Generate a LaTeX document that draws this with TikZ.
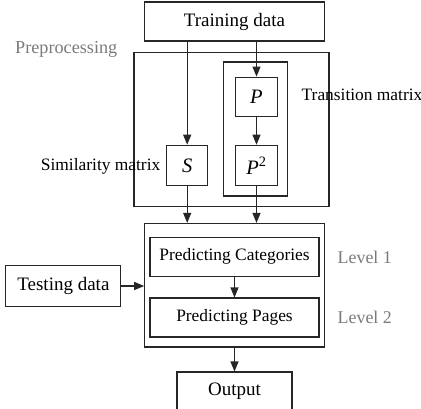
\documentclass[tikz,border=0pt]{standalone}
\usepackage{fontspec}
\setmainfont{Liberation Serif}
\usetikzlibrary{arrows.meta}
\definecolor{linegray}{HTML}{262626}
\definecolor{labelgray}{HTML}{7A7A7A}
\newcommand{\bigfont}{\fontsize{19}{22}\selectfont}
\newcommand{\smallfont}{\fontsize{17.4}{20}\selectfont}
\newcommand{\symfont}{\fontsize{20.5}{24}\selectfont}
\begin{document}
\begin{tikzpicture}[x=1pt, y=-1pt,
  box/.style={draw=linegray, line width=1.1pt, inner sep=0pt},
  arr/.style={draw=linegray, line width=1.1pt, -{Triangle[length=10pt, width=8pt]}},
  lbl/.style={inner sep=0pt, font=\smallfont},
  greylbl/.style={lbl, text=labelgray}]
  \useasboundingbox (0,0) rectangle (421,408);
  % top and preprocessing
  \node[box, minimum width=180, minimum height=39, font=\bigfont] (train) at (234.5,21.5) {Training data};
  \node[box, minimum width=195, minimum height=154] (prep) at (231.5,129.8) {};
  \node[box, minimum width=64, minimum height=134] (trans) at (255.5,129) {};
  \node[box, minimum width=41.5, minimum height=39, font=\symfont] (p) at (256.5,96.6) {\textit{P}};
  \node[box, minimum width=41.5, minimum height=40.5, font=\symfont] (ptwo) at (256.5,165.5) {\textit{P}\textsuperscript{2}};
  \node[box, minimum width=41, minimum height=40.5, font=\symfont] (s) at (187.2,165.5) {\textit{S}};
  \node[greylbl, anchor=west, font=\fontsize{18.2}{21}\selectfont] (preplbl) at (15,49) {Preprocessing};
  \node[lbl, anchor=west] (translbl) at (301.5,95) {Transition matrix};
  \node[lbl, anchor=east] (simlbl) at (160.5,166.5) {Similarity matrix};
  % prediction levels
  \node[box, minimum width=179.5, minimum height=123.5] (level) at (234.5,285.2) {};
  \node[box, minimum width=169, minimum height=39, font=\smallfont] (cat) at (234.5,256.8) {Predicting Categories};
  \node[box, minimum width=169, minimum height=39, font=\smallfont] (pages) at (234.5,317.5) {Predicting Pages};
  \node[greylbl, anchor=west, font=\fontsize{17.9}{21}\selectfont] (lvlone) at (337.5,257.5) {Level 1};
  \node[greylbl, anchor=west, font=\fontsize{17.9}{21}\selectfont] (lvltwo) at (337.5,317.5) {Level 2};
  \node[box, minimum width=115, minimum height=40.5, font=\bigfont] (test) at (63.4,286) {Testing data};
  \node[box, minimum width=115, minimum height=39, font=\bigfont] (out) at (234.5,391.5) {Output};
  % connectors
  \draw[arr] (s |- train.south) -- (s.north);
  \draw[arr] (p |- train.south) -- (p.north);
  \draw[arr] (p) -- (ptwo);
  \draw[arr] (s.south) -- (s |- level.north);
  \draw[arr] (ptwo.south) -- (ptwo |- level.north);
  \draw[arr] (test.east) -- (test.east -| level.west);
  \draw[arr] (cat) -- (pages);
  \draw[arr] (level) -- (out);
\end{tikzpicture}
\end{document}
